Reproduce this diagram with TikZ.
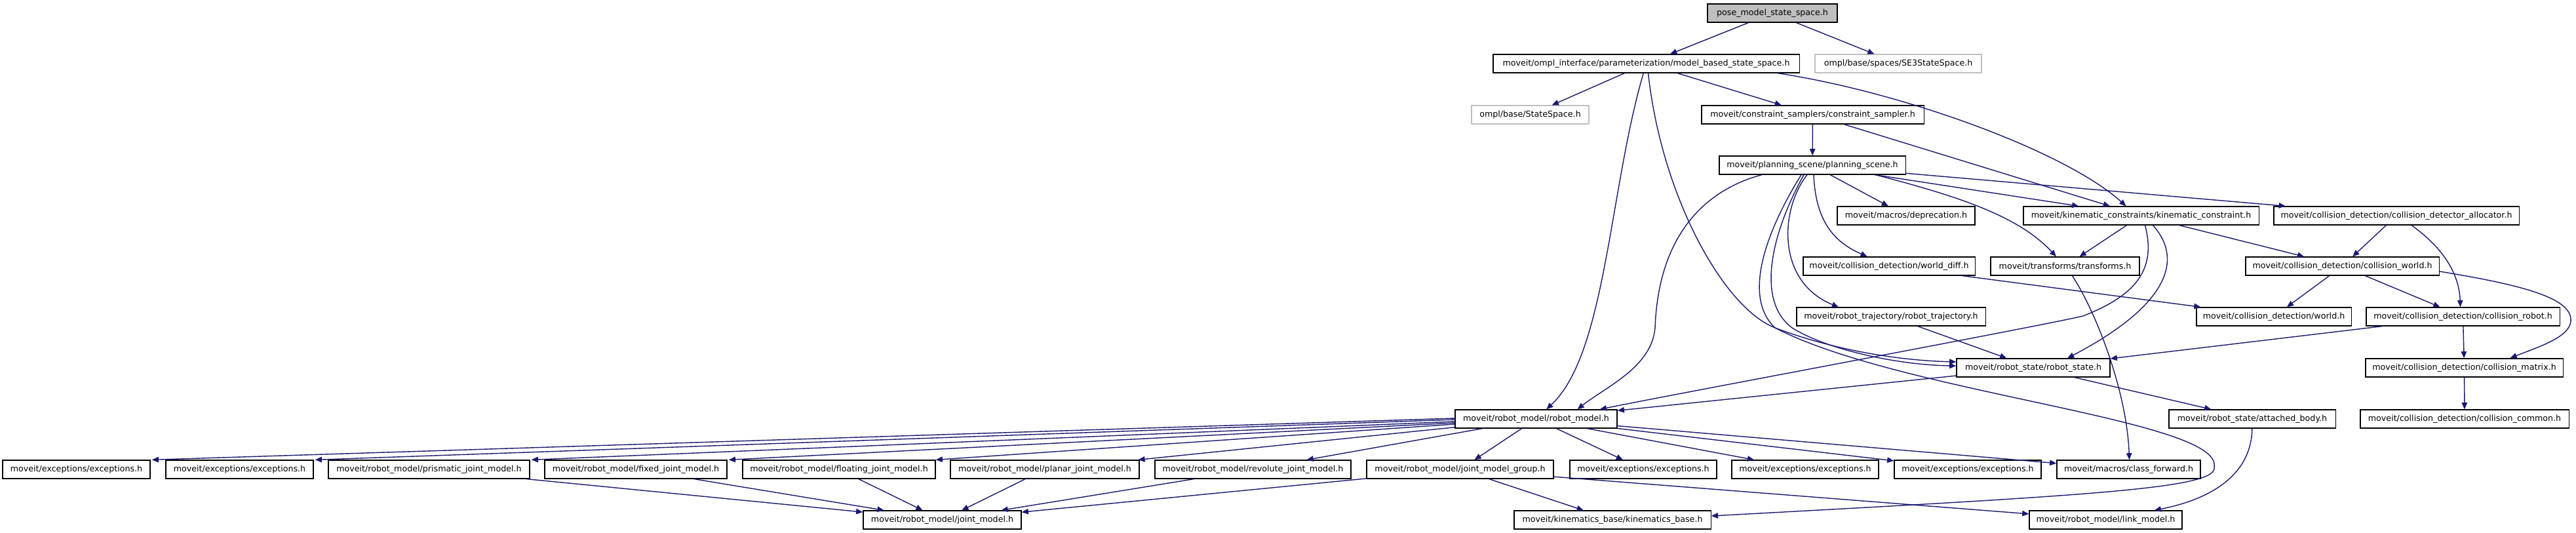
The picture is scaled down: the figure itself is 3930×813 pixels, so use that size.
\documentclass[tikz,border=0pt]{standalone}
\usepackage{fontspec}
\setmainfont{DejaVu Sans}
\usepackage{tikz}
\usetikzlibrary{arrows.meta,calc}
\usepackage{xcolor}
\definecolor{edgeblue}{HTML}{191970}
\definecolor{extgray}{HTML}{BFBFBF}

\begin{document}
\begin{tikzpicture}[
  x=0.01cm, y=-0.01cm,
  file/.style = {draw=black, line width=0.35pt, fill=white, inner sep=0pt,
                 minimum height=0.28cm, font=\fontsize{3.6}{4.3}\selectfont},
  root/.style = {file, fill=extgray},
  ext/.style  = {file, draw=extgray},
  incl/.style = {draw=edgeblue, line width=0.4pt,
                 -{Triangle[length=2.9pt,width=2.4pt]}},
]
\fill[white] (0,0) rectangle (3930,813);
\useasboundingbox (0,0) rectangle (3930,813);

% ========== Top of the graph ==========
\node[root, minimum width=1.98cm] (root)  at (2704,20)   {pose\_model\_state\_space.h};
\node[file, minimum width=4.67cm] (mbss)  at (2511.5,97) {moveit/ompl\_interface/parameterization/model\_based\_state\_space.h};
\node[ext,  minimum width=2.54cm] (se3)   at (2896,97)   {ompl/base/spaces/SE3StateSpace.h};
\node[ext,  minimum width=1.79cm] (ompss) at (2334.5,175) {ompl/base/StateSpace.h};
\node[file, minimum width=3.39cm] (csamp) at (2765.5,175) {moveit/constraint\_samplers/constraint\_sampler.h};
\node[file, minimum width=2.84cm] (pscene) at (2765,252) {moveit/planning\_scene/planning\_scene.h};

% ========== Middle rows ==========
\node[file, minimum width=2.10cm] (deprec)  at (2908,329)   {moveit/macros/deprecation.h};
\node[file, minimum width=3.59cm] (kinc)    at (3266.5,329) {moveit/kinematic\_constraints/kinematic\_constraint.h};
\node[file, minimum width=3.74cm] (cdalloc) at (3656,329)   {moveit/collision\_detection/collision\_detector\_allocator.h};
\node[file, minimum width=2.62cm] (wdiff)   at (2882,406)   {moveit/collision\_detection/world\_diff.h};
\node[file, minimum width=2.27cm] (transf)  at (3150.5,406) {moveit/transforms/transforms.h};
\node[file, minimum width=2.95cm] (cworld)  at (3573.5,406) {moveit/collision\_detection/collision\_world.h};
\node[file, minimum width=2.88cm] (rtraj)   at (2885,483)   {moveit/robot\_trajectory/robot\_trajectory.h};
\node[file, minimum width=2.36cm] (world)   at (3469,483)   {moveit/collision\_detection/world.h};
\node[file, minimum width=2.95cm] (crobot)  at (3757.5,483) {moveit/collision\_detection/collision\_robot.h};
\node[file, minimum width=2.34cm] (rstate)  at (3102,561)   {moveit/robot\_state/robot\_state.h};
\node[file, minimum width=3.01cm] (cmatrix) at (3759.5,561) {moveit/collision\_detection/collision\_matrix.h};
\node[file, minimum width=2.47cm] (rmodel)  at (2343.5,639) {moveit/robot\_model/robot\_model.h};
\node[file, minimum width=2.54cm] (abody)   at (3436,639)   {moveit/robot\_state/attached\_body.h};
\node[file, minimum width=3.18cm] (ccommon) at (3760,639)   {moveit/collision\_detection/collision\_common.h};

% ========== Bottom rows ==========
\node[file, minimum width=2.25cm] (exc1)    at (116.5,716)  {moveit/exceptions/exceptions.h};
\node[file, minimum width=2.25cm] (exc2)    at (365.5,716)  {moveit/exceptions/exceptions.h};
\node[file, minimum width=3.07cm] (prism)   at (654.5,716)  {moveit/robot\_model/prismatic\_joint\_model.h};
\node[file, minimum width=2.78cm] (fixedj)  at (970,716)    {moveit/robot\_model/fixed\_joint\_model.h};
\node[file, minimum width=2.94cm] (floatj)  at (1280,716)   {moveit/robot\_model/floating\_joint\_model.h};
\node[file, minimum width=2.88cm] (planar)  at (1594,716)   {moveit/robot\_model/planar\_joint\_model.h};
\node[file, minimum width=2.99cm] (revol)   at (1911.5,716) {moveit/robot\_model/revolute\_joint\_model.h};
\node[file, minimum width=2.85cm] (jmgroup) at (2227.5,716) {moveit/robot\_model/joint\_model\_group.h};
\node[file, minimum width=2.24cm] (exc3)    at (2507,716)   {moveit/exceptions/exceptions.h};
\node[file, minimum width=2.24cm] (exc4)    at (2754,716)   {moveit/exceptions/exceptions.h};
\node[file, minimum width=2.24cm] (exc5)    at (3002,716)   {moveit/exceptions/exceptions.h};
\node[file, minimum width=2.19cm] (cfwd)    at (3247.5,716) {moveit/macros/class\_forward.h};
\node[file, minimum width=2.41cm] (jmodel)  at (1437.5,793) {moveit/robot\_model/joint\_model.h};
\node[file, minimum width=3.00cm] (kbase)   at (2460,793)   {moveit/kinematics\_base/kinematics\_base.h};
\node[file, minimum width=2.33cm] (lmodel)  at (3212.5,793) {moveit/robot\_model/link\_model.h};

% ========== Includes of the top files ==========
\draw[incl] (root) -- (mbss);
\draw[incl] (root) -- (se3);
\draw[incl] (mbss) -- (ompss);
\draw[incl] (mbss) -- (csamp);
\draw[incl] (mbss) .. controls (2455,290) and (2450,540) .. (rmodel);
\draw[incl] ($(mbss.south)+(3,0)$) .. controls (2535,300) and (2630,470) .. (2708,500)
  .. controls (2800,535) and (2900,550) .. ($(rstate.west)+(0,-9)$);
\draw[incl] ($(mbss.south east)+(-34,0)$) .. controls (2900,140) and (3150,230)
  .. ($(kinc.north)+(-23,0)$);
\draw[incl] (csamp) -- (pscene);
\draw[incl] (csamp) -- (kinc);

% ========== planning_scene.h ==========
\draw[incl] ($(pscene.south)+(-77,0)$) .. controls (2600,290) and (2530,360) .. (2525,500)
  .. controls (2520,560) and (2450,590) .. ($(rmodel.north)+(63,0)$);
\draw[incl] ($(pscene.south)+(-13,0)$) .. controls (2700,360) and (2680,460) .. (2734,500)
  .. controls (2790,535) and (2900,557) .. ($(rstate.west)+(0,-3)$);
\draw[incl] ($(pscene.south)+(-17,0)$) .. controls (2690,360) and (2660,455) .. (2708,500)
  .. controls (2900,600) and (3390,640) .. (3378,712)
  .. controls (3385,745) and (3200,755) .. ($(kbase.east)+(0,-6)$);
\draw[incl] ($(pscene.south)+(-8,0)$) .. controls (2715,320) and (2710,430)
  .. ($(rtraj.north)+(-80,0)$);
\draw[incl] ($(pscene.south)+(2,0)$) .. controls (2770,340) and (2800,370) .. (wdiff);
\draw[incl] (pscene) -- (deprec);
\draw[incl] (pscene) -- (kinc);
\draw[incl] ($(pscene.south)+(96,0)$) .. controls (2990,300) and (3080,330) .. (transf);
\draw[incl] (pscene) -- (cdalloc);

% ========== kinematic_constraint.h ==========
\draw[incl] (kinc) -- (transf);
\draw[incl] (kinc) -- (cworld);
\draw[incl] ($(kinc.south)+(6,0)$) .. controls (3290,410) and (3260,450) .. (3178,482)
  .. controls (3100,500) and (2560,600) .. ($(rmodel.north east)+(-27,0)$);
\draw[incl] ($(kinc.south)+(18,0)$) .. controls (3335,400) and (3300,470)
  .. ($(rstate.north)+(52,0)$);

% ========== collision detection ==========
\draw[incl] (cdalloc) -- (cworld);
\draw[incl] ($(cdalloc.south)+(23,0)$) .. controls (3730,380) and (3752,420)
  .. ($(crobot.north)+(-4,0)$);
\draw[incl] (cworld) -- (world);
\draw[incl] (cworld) -- (crobot);
\draw[incl] ($(cworld.east)+(0,8)$) .. controls (3850,435) and (3925,455) .. (3922,490)
  .. controls (3920,515) and (3870,530) .. ($(cmatrix.north)+(70,0)$);
\draw[incl] (crobot) -- (rstate);
\draw[incl] (crobot) -- (cmatrix);
\draw[incl] (cmatrix) -- (ccommon);
\draw[incl] (wdiff) -- (world);

% ========== transforms, trajectory, state ==========
\draw[incl] ($(transf.south)+(11,0)$) .. controls (3200,480) and (3245,600)
  .. ($(cfwd.north)+(1,0)$);
\draw[incl] (rtraj) -- (rstate);
\draw[incl] (rstate) -- (abody);
\draw[incl] (rstate) -- (rmodel);
\draw[incl] (abody) .. controls (3435,720) and (3380,760) .. (lmodel);

% ========== robot_model.h ==========
\draw[incl] ($(rmodel.west)+(0,-1)$) -- ($(exc1.north east)+(2,0)$);
\draw[incl] ($(rmodel.west)+(0,1)$)  -- ($(exc2.north east)+(2,0)$);
\draw[incl] ($(rmodel.west)+(0,4)$)  -- ($(prism.north east)+(2,0)$);
\draw[incl] ($(rmodel.west)+(0,6)$)  -- ($(fixedj.north east)+(2,0)$);
\draw[incl] ($(rmodel.west)+(0,8)$)  -- (floatj.north east);
\draw[incl] (rmodel) -- (planar);
\draw[incl] (rmodel) -- (revol);
\draw[incl] (rmodel) -- (jmgroup);
\draw[incl] (rmodel) -- (exc3);
\draw[incl] (rmodel) -- (exc4);
\draw[incl] (rmodel) -- (exc5);
\draw[incl] (rmodel) -- (cfwd);

% ========== joint models ==========
\draw[incl] (prism)   -- (jmodel);
\draw[incl] (fixedj)  -- (jmodel);
\draw[incl] (floatj)  -- (jmodel);
\draw[incl] (planar)  -- (jmodel);
\draw[incl] (revol)   -- (jmodel);
\draw[incl] (jmgroup) -- (jmodel);
\draw[incl] (jmgroup) -- (kbase);
\draw[incl] (jmgroup) -- (lmodel);

\end{tikzpicture}
\end{document}
